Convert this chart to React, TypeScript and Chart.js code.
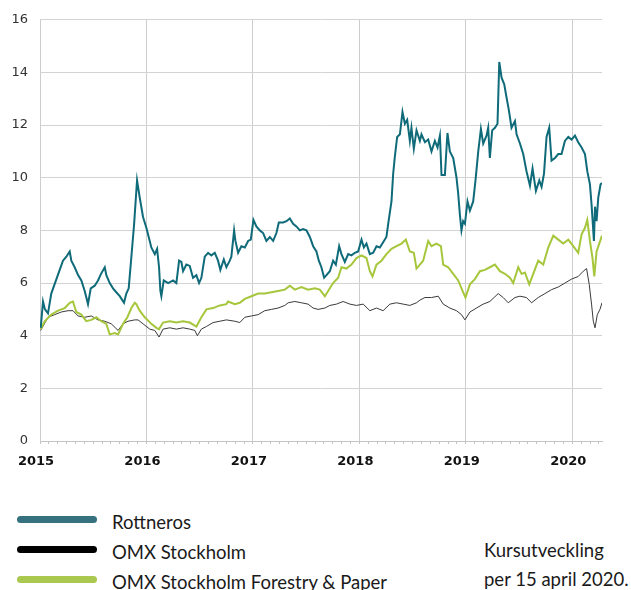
import React, { useEffect, useRef } from "react";
import { Chart, registerables } from "chart.js";

Chart.register(...registerables);

// x positions are months since January 2015
const rottX = [0.08,0.34,0.56,0.9,1.27,1.8,2.22,2.59,2.97,3.35,3.53,3.91,4.29,4.66,5.04,5.41,5.72,6.17,6.54,6.88,7.3,7.48,7.86,8.23,8.6,8.99,9.47,9.73,10.0,10.3,10.6,10.94,11.24,11.62,11.99,12.29,12.55,12.94,13.2,13.42,13.57,13.68,13.95,14.44,15.0,15.37,15.68,15.94,16.13,16.5,16.88,17.25,17.63,17.93,18.19,18.57,18.95,19.32,19.7,20.07,20.33,20.72,21.01,21.39,21.57,21.88,22.03,22.33,22.7,23.09,23.46,23.76,24.06,24.39,24.78,25.15,25.52,25.91,26.28,26.65,26.92,27.41,27.78,28.16,28.53,28.9,29.29,29.66,30.03,30.42,30.79,31.16,31.43,31.72,32.03,32.29,32.67,33.04,33.35,33.72,33.98,34.36,34.74,35.11,35.49,35.86,36.24,36.51,36.8,37.18,37.56,37.93,38.31,38.68,39.05,39.25,39.62,39.81,40.0,40.26,40.57,40.86,41.13,41.39,41.69,41.87,42.14,42.44,42.82,43.0,43.39,43.76,44.13,44.51,44.81,45.08,45.26,45.64,45.93,46.2,46.58,46.95,47.14,47.33,47.51,47.7,47.9,48.19,48.46,48.83,49.09,49.4,49.7,49.96,50.33,50.52,50.71,50.97,51.28,51.57,51.77,52.03,52.33,52.59,52.86,53.15,53.54,53.72,54.1,54.47,54.84,55.23,55.52,55.9,56.28,56.54,56.81,57.1,57.4,57.66,58.05,58.42,58.79,59.17,59.55,59.92,60.3,60.67,61.05,61.43,61.69,61.99,62.17,62.44,62.56,62.74,62.93,63.19,63.35];
const rottY = [4.3,5.3,5.0,4.85,5.6,6.1,6.5,6.85,7.0,7.2,6.85,6.6,6.3,6.1,5.7,5.2,5.8,5.9,6.1,6.35,6.6,6.3,6.0,5.8,5.65,5.5,5.25,5.6,5.8,7.0,8.2,9.9,9.25,8.5,8.1,7.7,7.35,7.1,7.3,6.6,5.7,5.5,6.1,6.0,6.1,6.0,6.85,6.8,6.45,6.7,6.65,6.2,6.3,6.0,6.2,7.0,7.15,7.05,7.15,6.85,6.5,6.9,6.6,6.85,7.0,8.0,7.6,7.15,7.4,7.35,7.6,7.65,8.4,8.15,8.0,7.9,7.6,7.75,7.6,7.9,8.3,8.3,8.35,8.45,8.25,8.15,8.0,8.05,8.0,7.75,7.4,7.2,6.85,6.6,6.2,6.3,6.45,6.85,6.7,7.4,7.1,6.8,7.1,7.05,7.15,7.2,7.65,7.35,7.5,7.1,7.15,7.4,7.35,7.55,7.75,8.25,9.1,10.15,10.8,11.55,11.65,12.5,12.05,12.2,11.4,11.9,11.1,11.8,11.4,11.65,11.35,11.45,11.0,11.4,11.15,11.6,10.1,10.1,11.7,11.0,10.75,10.0,9.4,8.6,8.0,8.35,8.25,9.1,8.75,9.1,9.9,11.0,11.85,11.3,11.6,11.9,10.75,11.8,11.9,12.05,14.4,13.8,13.55,13.05,12.55,11.9,12.15,11.65,11.3,10.9,10.25,9.7,10.35,9.5,9.9,9.65,10.15,11.55,11.9,10.65,10.75,10.9,10.9,11.4,11.55,11.45,11.6,11.35,11.15,10.9,10.25,9.75,9.0,7.6,8.9,8.35,9.25,9.75,9.8];

const omxX = [0.08,0.9,1.66,2.4,3.16,3.72,4.29,5.04,5.79,6.54,7.3,8.04,8.8,9.36,9.92,10.68,11.05,11.62,12.37,12.94,13.42,13.87,14.63,15.37,16.13,16.88,17.45,17.74,18.19,18.76,19.51,20.27,21.01,21.96,22.52,23.09,23.83,24.59,25.34,26.09,26.84,27.6,27.97,28.72,29.47,30.22,30.79,31.35,32.11,32.67,33.42,34.17,34.93,35.67,36.43,37.18,37.93,38.68,39.44,40.18,40.94,41.69,42.44,42.82,43.39,44.13,44.89,45.45,46.2,46.95,47.51,47.9,48.46,49.2,49.96,50.71,51.65,52.21,52.78,53.54,54.1,54.84,55.41,56.16,56.92,57.66,58.42,59.17,59.92,60.67,61.24,61.61,61.91,62.17,62.37,62.56,62.82,63.12,63.35];
const omxY = [4.2,4.7,4.8,4.9,4.95,4.95,4.75,4.7,4.75,4.6,4.55,4.45,4.2,4.45,4.55,4.6,4.6,4.45,4.25,4.2,3.95,4.25,4.3,4.25,4.3,4.25,4.2,4.0,4.25,4.35,4.5,4.55,4.6,4.55,4.5,4.7,4.75,4.8,4.95,5.0,5.05,5.15,5.25,5.3,5.25,5.2,5.05,5.0,5.05,5.15,5.2,5.3,5.2,5.15,5.2,4.95,5.05,4.95,5.2,5.25,5.2,5.15,5.25,5.35,5.45,5.45,5.5,5.2,5.05,4.95,4.8,4.6,4.9,5.05,5.2,5.3,5.6,5.45,5.25,5.45,5.5,5.45,5.25,5.45,5.6,5.75,5.85,6.0,6.15,6.25,6.45,6.55,5.95,5.2,4.55,4.3,4.8,5.0,5.25];

const forX = [0.08,0.53,1.27,2.03,2.79,3.35,3.72,4.09,4.66,5.22,5.79,6.35,6.91,7.48,7.86,8.42,8.8,9.36,9.85,10.3,10.68,10.86,11.24,11.81,12.55,13.12,13.42,13.87,14.63,15.37,16.13,16.88,17.63,18.19,18.76,19.51,20.27,21.01,21.2,21.96,22.52,23.09,23.83,24.59,25.34,26.09,26.84,27.6,28.16,28.72,29.47,30.22,30.98,31.54,32.11,32.48,33.04,33.61,33.98,34.54,35.11,35.67,36.24,36.8,37.18,37.48,37.93,38.49,39.05,39.62,40.18,40.75,41.24,41.69,42.14,42.44,42.82,43.19,43.76,44.13,44.69,45.19,45.45,46.01,46.58,47.14,47.7,47.96,48.46,49.02,49.59,50.15,50.71,51.28,51.84,52.41,52.97,53.34,53.91,54.28,54.66,55.15,55.6,56.16,56.73,57.29,57.86,58.42,58.98,59.55,60.11,60.67,61.05,61.43,61.69,61.99,62.28,62.48,62.74,63.04,63.35];
const forY = [4.25,4.55,4.8,4.95,5.05,5.25,5.3,4.9,4.8,4.55,4.6,4.7,4.55,4.45,4.05,4.1,4.05,4.45,4.7,5.05,5.25,5.2,4.95,4.7,4.45,4.3,4.25,4.5,4.55,4.5,4.55,4.5,4.35,4.7,5.0,5.05,5.15,5.2,5.3,5.2,5.25,5.4,5.5,5.6,5.6,5.65,5.7,5.75,5.9,5.75,5.85,5.75,5.8,5.75,5.5,5.7,6.0,6.2,6.6,6.55,6.7,6.95,7.05,6.95,6.45,6.25,6.7,6.85,7.1,7.3,7.4,7.5,7.65,7.2,7.15,6.55,6.7,6.85,7.6,7.4,7.5,7.4,6.7,6.6,6.35,6.1,5.65,5.45,5.95,6.15,6.45,6.5,6.6,6.7,6.45,6.35,6.2,6.0,6.6,6.35,6.4,5.95,6.35,6.85,6.7,7.35,7.8,7.65,7.5,7.65,7.4,7.15,7.85,8.1,8.4,7.6,6.95,6.25,7.2,7.5,7.8];

const yearLabels = ["2015", "2016", "2017", "2018", "2019", "2020"];
const yTicks = [0, 2, 4, 6, 8, 10, 12, 14, 16];
const seriesNames = ["Rottneros", "OMX Stockholm", "OMX Stockholm Forestry & Paper"];
const footNote = ["Kursutveckling", "per 15 april 2020."];

const X_MAX = 63.35;
const lineColors = ["#0f6b79", "#3a3a3a", "#a6c63c"];
const legendColors = ["#36717f", "#000000", "#aac750"];

function pts(xs: number[], ys: number[]) {
  return xs.map((x, i) => ({ x, y: ys[i] }));
}

export default function App() {
  const ref = useRef<HTMLCanvasElement | null>(null);

  useEffect(() => {
    if (!ref.current) return;
    const chart = new Chart(ref.current, {
      type: "line",
      data: {
        datasets: [
          {
            label: seriesNames[0],
            data: pts(rottX, rottY),
            borderColor: lineColors[0],
            borderWidth: 2,
            pointRadius: 0,
            tension: 0,
            order: 0,
          },
          {
            label: seriesNames[2],
            data: pts(forX, forY),
            borderColor: lineColors[2],
            borderWidth: 2,
            pointRadius: 0,
            tension: 0,
            order: 1,
          },
          {
            label: seriesNames[1],
            data: pts(omxX, omxY),
            borderColor: lineColors[1],
            borderWidth: 1,
            pointRadius: 0,
            tension: 0,
            order: 2,
          },
        ],
      },
      options: {
        animation: false,
        responsive: false,
        devicePixelRatio: 1,
        layout: { padding: { left: 0, top: 19, right: 29, bottom: 0 } },
        plugins: { legend: { display: false }, tooltip: { enabled: false } },
        scales: {
          x: {
            type: "linear",
            min: 0,
            max: X_MAX,
            afterFit: (s: any) => {
              s.height = 39;
            },
            afterBuildTicks: (s: any) => {
              const t = [];
              for (let m = 0; m <= X_MAX; m++) t.push({ value: m });
              s.ticks = t;
            },
            ticks: {
              autoSkip: false,
              maxRotation: 0,
              padding: 10,
              labelOffset: -4,
              color: "#111111",
              font: { family: "DejaVu Sans", size: 13, weight: "bold" },
              callback: (v: any) => {
                const n = Number(v);
                return n % 12 === 0 ? yearLabels[n / 12] ?? "" : "";
              },
            },
            grid: {
              color: (ctx: any) =>
                ctx.tick && ctx.tick.value % 12 === 0 ? "#cdcdcd" : "rgba(0,0,0,0)",
              tickColor: "#c4c4c4",
              tickLength: 3,
              drawTicks: true,
              lineWidth: 1,
            },
            border: { display: true, color: "#c4c4c4" },
          },
          y: {
            min: 0,
            max: 16,
            afterFit: (s: any) => {
              s.width = 40;
            },
            afterBuildTicks: (s: any) => {
              s.ticks = yTicks.map((v) => ({ value: v }));
            },
            ticks: {
              padding: 12,
              color: "#333333",
              font: { family: "DejaVu Sans", size: 13 },
            },
            grid: { color: "#d3d3d3", drawTicks: false, lineWidth: 1 },
            border: { display: true, color: "#cdcdcd" },
          },
        },
      },
    });
    return () => chart.destroy();
  }, []);

  const textStyle: React.CSSProperties = {
    position: "absolute",
    fontFamily: "Lato, 'Open Sans', sans-serif",
    fontSize: "18.5px",
    lineHeight: "22px",
    color: "#1a1a1a",
    whiteSpace: "nowrap",
  };
  const rows = [519.5, 549.5, 579.5];

  return (
    <div style={{ position: "absolute", left: 0, top: 0, width: 631, height: 590, overflow: "hidden", background: "#fff" }}>
      <canvas ref={ref} width={631} height={480} style={{ position: "absolute", left: 0, top: 0, width: 631, height: 480 }} />
      {seriesNames.map((name, i) => (
        <React.Fragment key={name}>
          <div
            style={{
              position: "absolute",
              left: 17,
              top: rows[i] - 3.5,
              width: 80,
              height: 7,
              borderRadius: 4,
              background: legendColors[i],
            }}
          />
          <div style={{ ...textStyle, left: 112, top: rows[i] + 2.5 - 11.5 }}>{name}</div>
        </React.Fragment>
      ))}
      <div style={{ ...textStyle, left: 484, top: 550 - 11.5 }}>{footNote[0]}</div>
      <div style={{ ...textStyle, left: 484, top: 579 - 11.5 }}>{footNote[1]}</div>
    </div>
  );
}
